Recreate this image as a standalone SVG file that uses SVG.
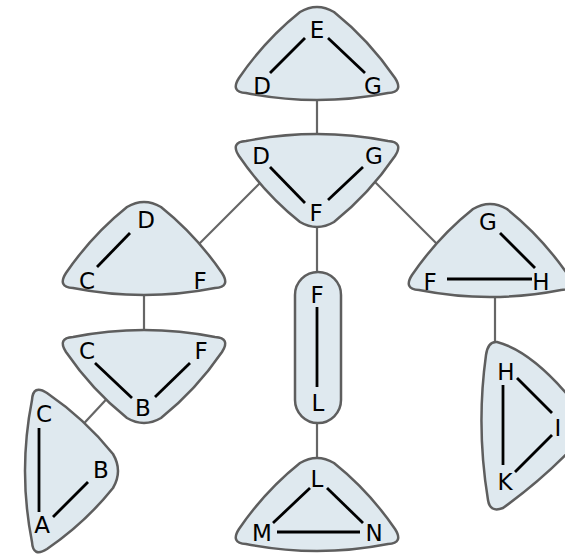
<svg xmlns="http://www.w3.org/2000/svg" width="565" height="555" viewBox="0 0 565 555">
<defs>
<style>
.bag{fill:#dfe9ef;stroke:#5e5e5e;stroke-width:2.5}
.con{stroke:#666;stroke-width:2.2;fill:none}
.e{stroke:#000;stroke-width:2.8;fill:none}
text{font-family:"DejaVu Sans",sans-serif;font-size:23px;text-anchor:middle;fill:#000}
</style>
<path id="tri" d="M -17,5 Q 0,-5 17,5 Q 52,33 78,71 Q 87,85 71,86 Q 0,100 -71,86 Q -87,85 -78,71 Q -52,33 -17,5 Z"/>
</defs>
<rect width="565" height="555" fill="#fff"/>
<g id="connectors">
<line class="con" x1="317" y1="100" x2="317" y2="134"/>
<line class="con" x1="190" y1="253" x2="275" y2="168"/>
<line class="con" x1="317" y1="227" x2="317" y2="272"/>
<line class="con" x1="365" y1="172" x2="445" y2="252"/>
<line class="con" x1="144" y1="295" x2="144" y2="330"/>
<line class="con" x1="115" y1="390" x2="75" y2="433"/>
<line class="con" x1="317" y1="423" x2="317" y2="460"/>
<line class="con" x1="495" y1="298" x2="495" y2="345"/>
</g>
<g id="bag-EDG">
<use href="#tri" class="bag" transform="translate(317,7)"/>
<line class="e" x1="305" y1="38" x2="270" y2="73"/>
<line class="e" x1="328" y1="38" x2="365" y2="73"/>
<text x="317" y="38">E</text><text x="262" y="94">D</text><text x="373" y="94">G</text>
</g>
<g id="bag-DGF">
<use href="#tri" class="bag" transform="translate(317,227) scale(1,-1)"/>
<line class="e" x1="270" y1="167" x2="305" y2="203"/>
<line class="e" x1="363" y1="167" x2="328" y2="200"/>
<text x="261" y="164">D</text><text x="374" y="164">G</text><text x="316" y="221">F</text>
</g>
<g id="bag-CDF">
<use href="#tri" class="bag" transform="translate(144,202)"/>
<line class="e" x1="130" y1="233" x2="97" y2="267"/>
<text x="146" y="228">D</text><text x="87" y="289">C</text><text x="200" y="289">F</text>
</g>
<g id="bag-CFB">
<use href="#tri" class="bag" transform="translate(144,423) scale(1,-1)"/>
<line class="e" x1="95" y1="363" x2="132" y2="398"/>
<line class="e" x1="190" y1="363" x2="155" y2="397"/>
<text x="87" y="359">C</text><text x="201" y="359">F</text><text x="143" y="416">B</text>
</g>
<g id="bag-ABC">
<use href="#tri" class="bag" transform="translate(118,471) rotate(90)"/>
<line class="e" x1="39" y1="428" x2="39" y2="512"/>
<line class="e" x1="88" y1="482" x2="53" y2="517"/>
<text x="44" y="422">C</text><text x="101" y="478">B</text><text x="42" y="533">A</text>
</g>
<g id="bag-FL">
<rect class="bag" x="295" y="272" width="46" height="151" rx="23"/>
<line class="e" x1="317" y1="307" x2="317" y2="387"/>
<text x="317" y="303">F</text><text x="318" y="411">L</text>
</g>
<g id="bag-FGH">
<use href="#tri" class="bag" transform="translate(490,204)"/>
<line class="e" x1="500" y1="233" x2="535" y2="268"/>
<line class="e" x1="447" y1="279" x2="532" y2="279"/>
<text x="488" y="230">G</text><text x="430" y="290">F</text><text x="541" y="290">H</text>
</g>
<g id="bag-HIK">
<path class="bag" d="M 497,342 Q 535,352 580,410 Q 598,427 580,440 Q 545,478 503,508 Q 490,513 488,500 Q 476,427 486,355 Q 488,341 497,342 Z"/>
<line class="e" x1="503" y1="385" x2="503" y2="465"/>
<line class="e" x1="517" y1="378" x2="552" y2="413"/>
<line class="e" x1="552" y1="435" x2="515" y2="472"/>
<text x="506" y="380">H</text><text x="558" y="436">I</text><text x="505" y="490">K</text>
</g>
<g id="bag-LMN">
<use href="#tri" class="bag" transform="translate(317,458)"/>
<line class="e" x1="310" y1="488" x2="273" y2="523"/>
<line class="e" x1="327" y1="488" x2="363" y2="523"/>
<line class="e" x1="277" y1="532" x2="360" y2="532"/>
<text x="317" y="487">L</text><text x="262" y="541">M</text><text x="374" y="541">N</text>
</g>
</svg>
